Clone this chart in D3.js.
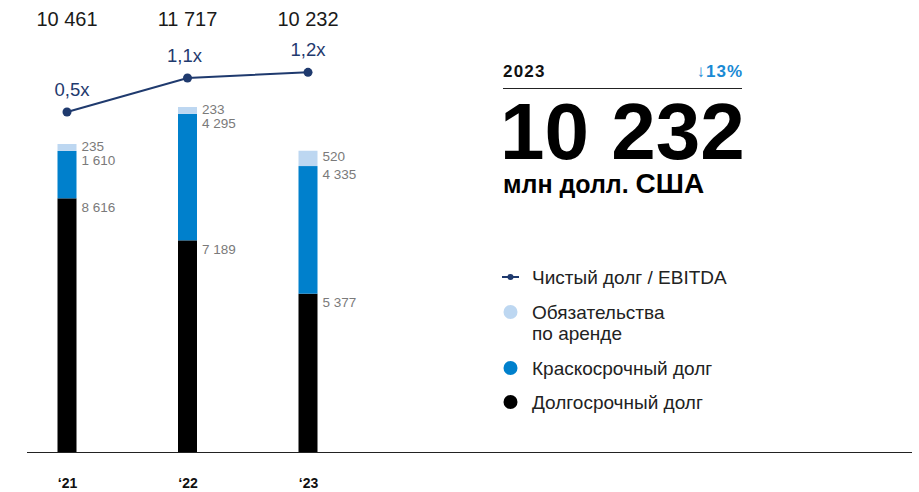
<!DOCTYPE html>
<html>
<head>
<meta charset="utf-8">
<script src="https://cdn.jsdelivr.net/npm/d3@7"></script>
<style>
  body { margin: 0; background: #fff; }
  svg { font-family: "Liberation Sans", Arial, sans-serif; }
</style>
</head>
<body>
<div class="display"></div>
<script>
// Долговой портфель: стек по годам + линия Чистый долг / EBITDA

const WIDTH = 919;
const HEIGHT = 492;

const years = ['‘21', '‘22', '‘23'];
const longTerm = [8616, 7189, 5377];
const shortTerm = [1610, 4295, 4335];
const lease = [235, 233, 520];
const totals = [10461, 11717, 10232];
const ratio = [0.5, 1.1, 1.2];
const ratioLabels = ['0,5x', '1,1x', '1,2x'];

const legendItems = [
  { key: 'line', lines: ['Чистый долг / EBITDA'] },
  { key: 'lease', lines: ['Обязательства', 'по аренде'] },
  { key: 'short', lines: ['Краскосрочный долг'] },
  { key: 'long', lines: ['Долгосрочный долг'] }
];

const colors = { long: '#000000', short: '#0080cc', lease: '#bdd7f1', line: '#1f3a6e' };
const fmt = v => d3.format(',')(v).replace(/,/g, ' ');

const svg = d3.select('.display')
  .append('svg')
  .attr('width', WIDTH)
  .attr('height', HEIGHT);

const x = d3.scalePoint()
  .domain(years)
  .range([67, 308]);

const y = d3.scaleLinear()
  .domain([0, 10461])
  .range([452, 144]);

const yRatio = d3.scaleLinear()
  .domain([0.5, 1.1])
  .range([112, 78]);

const BAR_W = 19;

const rows = years.map((yr, i) => ({
  yr, long: longTerm[i], short: shortTerm[i], lease: lease[i], total: totals[i]
}));

const stack = d3.stack().keys(['long', 'short', 'lease'])(rows);

const bars = svg.append('g');
stack.forEach(layer => {
  bars.selectAll('.bar-' + layer.key)
    .data(layer)
    .enter()
    .append('rect')
    .attr('class', 'bar-' + layer.key)
    .attr('x', d => x(d.data.yr) - BAR_W / 2)
    .attr('width', BAR_W)
    .attr('y', d => y(d[1]))
    .attr('height', d => y(d[0]) - y(d[1]))
    .attr('fill', colors[layer.key]);
});

// segment labels
const labels = svg.append('g')
  .attr('font-size', 13.5)
  .attr('fill', '#7a7a7a');

rows.forEach((r, i) => {
  const lx = x(r.yr) + BAR_W / 2 + 5;
  const leaseTop = y(r.long + r.short + r.lease);
  const shortTop = y(r.long + r.short);
  const longTop = y(r.long);
  const leaseC = Math.min((leaseTop + shortTop) / 2, leaseTop + 7) - 1;
  const shortC = Math.max(shortTop + 8, leaseC + 14);
  const longC = longTop + 9;
  [[r.lease, leaseC], [r.short, shortC], [r.long, longC]].forEach(([v, cy]) => {
    labels.append('text')
      .attr('x', lx)
      .attr('y', cy)
      .attr('dy', '0.35em')
      .text(fmt(v));
  });
});

// totals on top
svg.append('g')
  .selectAll('text')
  .data(rows)
  .enter()
  .append('text')
  .attr('x', d => x(d.yr))
  .attr('y', 26)
  .attr('text-anchor', 'middle')
  .attr('font-size', 20)
  .attr('fill', '#1a1a1a')
  .text(d => fmt(d.total));

// ratio line
const linePts = years.map((yr, i) => [x(yr), yRatio(ratio[i])]);
svg.append('path')
  .attr('d', d3.line()(linePts))
  .attr('fill', 'none')
  .attr('stroke', colors.line)
  .attr('stroke-width', 2);

svg.append('g')
  .selectAll('circle')
  .data(linePts)
  .enter()
  .append('circle')
  .attr('cx', d => d[0])
  .attr('cy', d => d[1])
  .attr('r', 4.5)
  .attr('fill', colors.line);

svg.append('g')
  .selectAll('text')
  .data(linePts)
  .enter()
  .append('text')
  .attr('x', (d, i) => d[0] + [5, -3, 0][i])
  .attr('y', d => d[1] - 16)
  .attr('text-anchor', 'middle')
  .attr('font-size', 18.5)
  .attr('fill', colors.line)
  .text((d, i) => ratioLabels[i]);

// baseline + x axis
svg.append('line')
  .attr('x1', 27).attr('x2', 912)
  .attr('y1', 452.5).attr('y2', 452.5)
  .attr('stroke', '#222')
  .attr('stroke-width', 1);

const xAxis = svg.append('g')
  .attr('transform', 'translate(0,452)')
  .call(d3.axisBottom(x).tickSize(0).tickPadding(26));
xAxis.select('.domain').remove();
xAxis.selectAll('text')
  .attr('font-family', '"Liberation Sans", Arial, sans-serif')
  .attr('font-size', 14)
  .attr('font-weight', 'bold')
  .attr('fill', '#111');

// headline block
const head = svg.append('g');
head.append('text')
  .attr('x', 503).attr('y', 77)
  .attr('font-size', 17).attr('font-weight', 'bold').attr('fill', '#111')
  .attr('letter-spacing', 1.2)
  .text('2023');
head.append('text')
  .attr('x', 743).attr('y', 77)
  .attr('text-anchor', 'end')
  .attr('font-size', 17).attr('font-weight', 'bold').attr('fill', '#1a8ad4')
  .attr('letter-spacing', 1)
  .text('↓13%');
head.append('line')
  .attr('x1', 503).attr('x2', 742)
  .attr('y1', 88.5).attr('y2', 88.5)
  .attr('stroke', '#222').attr('stroke-width', 1);
head.append('text')
  .attr('x', 500).attr('y', 159)
  .attr('font-size', 80).attr('font-weight', 'bold').attr('fill', '#000')
  .attr('letter-spacing', 0)
  .text(fmt(totals[2]));
const unit = head.append('text')
  .attr('x', 503).attr('y', 193)
  .attr('fill', '#000');
unit.append('tspan').attr('font-weight', 'bold').attr('font-size', 25).text('млн долл. ');
unit.append('tspan').attr('font-weight', 'bold').attr('font-size', 28).text('США');

// legend
const legend = svg.append('g').attr('font-size', 19).attr('fill', '#222');
const legendY = [277, 312, 368, 402];
legendItems.forEach((it, i) => {
  const ly = legendY[i];
  if (it.key === 'line') {
    legend.append('line')
      .attr('x1', 502).attr('x2', 519)
      .attr('y1', ly).attr('y2', ly)
      .attr('stroke', colors.line).attr('stroke-width', 2);
    legend.append('circle')
      .attr('cx', 510.5).attr('cy', ly).attr('r', 3)
      .attr('fill', colors.line);
  } else {
    legend.append('circle')
      .attr('cx', 510.5).attr('cy', ly).attr('r', 7)
      .attr('fill', colors[it.key]);
  }
  it.lines.forEach((t, j) => {
    legend.append('text')
      .attr('x', 532).attr('y', ly + j * 21)
      .attr('dy', '0.35em')
      .text(t);
  });
});
</script>
</body>
</html>
